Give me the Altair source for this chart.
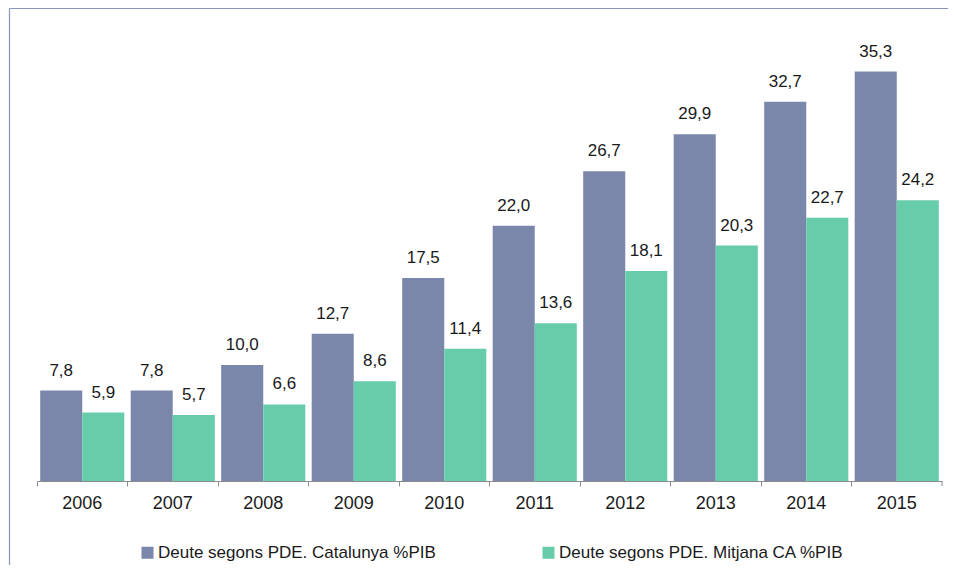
import altair as alt
import pandas as pd

years = ["2006", "2007", "2008", "2009", "2010", "2011", "2012", "2013", "2014", "2015"]
catalunya = [7.8, 7.8, 10.0, 12.7, 17.5, 22.0, 26.7, 29.9, 32.7, 35.3]
mitjana = [5.9, 5.7, 6.6, 8.6, 11.4, 13.6, 18.1, 20.3, 22.7, 24.2]
series = ["Deute segons PDE. Catalunya %PIB", "Deute segons PDE. Mitjana CA %PIB"]
colors = ["#7a87ab", "#66ccaa"]

rows = []
for i, yr in enumerate(years):
    rows.append({"year": yr, "series": series[0], "value": catalunya[i]})
    rows.append({"year": yr, "series": series[1], "value": mitjana[i]})
df = pd.DataFrame(rows)
df["label"] = df["value"].map(lambda v: f"{v:.1f}".replace(".", ","))

W, H = 905, 464
FONT = "Liberation Sans"
GRAY = "#8c8c8c"
FRAME = "#8a96bc"

x = alt.X(
    "year:N",
    sort=years,
    scale=alt.Scale(paddingInner=0, paddingOuter=0),
    axis=alt.Axis(
        title=None, bandPosition=0, labelAngle=0, tickSize=5, grid=False,
        labelFontSize=18, labelFont=FONT, labelColor="#1a1a1a", labelPadding=8,
        domainColor=GRAY, tickColor=GRAY,
    ),
)
xo = alt.XOffset("series:N", sort=series, scale=alt.Scale(paddingOuter=0.076, paddingInner=0))
y = alt.Y("value:Q", scale=alt.Scale(domain=[0, 40]), axis=None)
color = alt.Color(
    "series:N",
    scale=alt.Scale(domain=series, range=colors),
    legend=alt.Legend(
        title=None, orient="none", legendX=102, legendY=527, direction="horizontal",
        symbolType="square", symbolSize=144, symbolStrokeWidth=0,
        labelFontSize=17, labelFont=FONT, labelColor="#1a1a1a", labelLimit=600,
        columnPadding=104, labelOffset=2, padding=0,
    ),
)

base = alt.Chart(df).encode(x=x, xOffset=xo)
bars = base.mark_bar().encode(y=y, color=color)
labels = base.mark_text(
    dy=-15, baseline="alphabetic", fontSize=17, font=FONT, color="#1a1a1a"
).encode(y=y, text="label:N")

one = alt.Data(values=[{"k": 1}])
end_tick = alt.Chart(one).mark_rule(color=GRAY, strokeWidth=1).encode(
    x=alt.value(W), y=alt.value(H), y2=alt.value(H + 5)
)
frame_left = alt.Chart(one).mark_rule(color=FRAME, strokeWidth=1.2).encode(
    x=alt.value(-27.5), y=alt.value(-8.5), y2=alt.value(H + 150)
)
frame_top = alt.Chart(one).mark_rule(color=FRAME, strokeWidth=1.2).encode(
    x=alt.value(-27.5), x2=alt.value(W + 60), y=alt.value(-8.5)
)

chart = alt.layer(bars, labels, end_tick, frame_left, frame_top).properties(
    width=W, height=H,
    autosize=alt.AutoSizeParams(type="none"),
    padding={"left": 29, "top": 9, "right": 6, "bottom": 84},
).configure_view(stroke=None)

chart.save("out.html", embed_options={"renderer": "svg", "actions": False})
